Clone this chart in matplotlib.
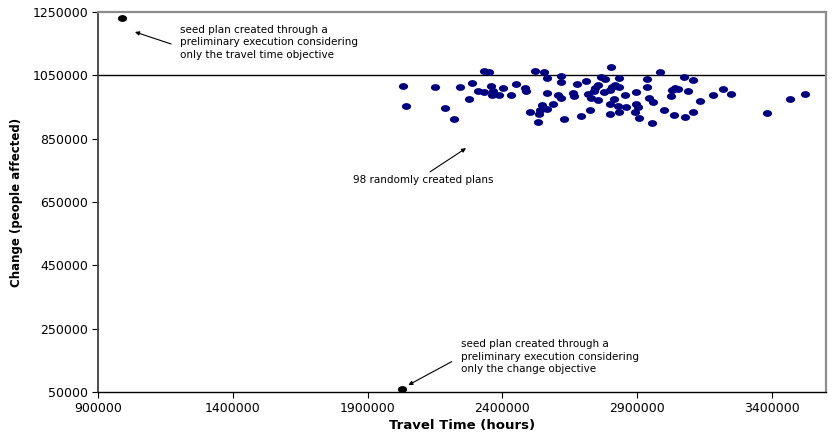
import matplotlib
matplotlib.use("Agg")
import matplotlib.pyplot as plt
from matplotlib.path import Path

# --- data ---
plans_travel = [
    2333000, 2350000, 2032000, 2150000, 2244000, 2286000, 2310000, 2333000, 2358000, 2366000,
    2360000, 2387000, 2403000, 2431000, 2450000, 2484000, 2486000, 2043000, 2187000, 2277000,
    2221000, 2502000, 2521000, 2554000, 2564000, 2616000, 2616000, 2676000, 2709000, 2803000,
    2765000, 2781000, 2834000, 2935000, 2935000, 2985000, 2567000, 2607000, 2616000, 2661000,
    2666000, 2719000, 2727000, 2743000, 2740000, 2756000, 2756000, 2777000, 2799000, 2805000,
    2818000, 2834000, 2814000, 2799000, 2830000, 2855000, 2858000, 2895000, 2895000, 2904000,
    2945000, 2957000, 2999000, 2546000, 2539000, 2564000, 2587000, 2537000, 2533000, 2628000,
    2690000, 2725000, 2799000, 2834000, 2892000, 2908000, 2954000, 3075000, 3108000, 3040000,
    3028000, 3052000, 3025000, 3087000, 3038000, 3077000, 3106000, 3133000, 3180000, 3217000,
    3247000, 3382000, 3468000, 3523000,
]
plans_change = [
    1064600, 1059600, 1017300, 1014100, 1014000, 1024800, 1001500, 998300, 1017300, 1000500,
    987900, 988800, 1010900, 988800, 1021700, 1009000, 1000500, 952200, 947800, 975300,
    912100, 935100, 1063700, 1061500, 1042500, 1048800, 1029900, 1021700, 1032100, 1077300,
    1045700, 1038400, 1040600, 1038400, 1014100, 1059600, 993300, 987900, 977500, 993300,
    985700, 990100, 977500, 1010900, 1000500, 1019500, 972100, 996400, 1003700, 1014100,
    1019500, 1014100, 975300, 958500, 954100, 987900, 949000, 996400, 958500, 950900,
    979400, 964800, 940500, 956300, 940500, 943700, 959500, 927900, 901700, 912100,
    921600, 940500, 926900, 935100, 935100, 916200, 898500, 1043800, 1035300, 1010900,
    1003700, 1005900, 984700, 1001500, 924700, 918400, 935100, 968900, 987900, 1006800,
    990100, 930100, 974300, 990100,
]
seed_travel = [989000, 2026000]
seed_change = [1231000, 58000]

x_ticks = [900000, 1400000, 1900000, 2400000, 2900000, 3400000]
y_ticks = [50000, 250000, 450000, 650000, 850000, 1050000, 1250000]

plt.rcParams["font.family"] = "DejaVu Sans"

fig = plt.figure(figsize=(8.33, 4.38), dpi=100)
ax = fig.add_axes([98 / 833, 46 / 438, 728 / 833, 380 / 438])

# slightly wide dots, like the stretched original
circ = Path.unit_circle()
dot = Path(circ.vertices * [1.35, 1.0], circ.codes)

ax.axhline(1050000, color="black", linewidth=1.0, zorder=1)
ax.scatter(plans_travel, plans_change, marker=dot, s=44, color="#000080",
           linewidths=0, zorder=3)
ax.scatter(seed_travel, seed_change, marker=dot, s=44, color="black",
           linewidths=0, zorder=3, clip_on=False)

ax.set_xlim(900000, 3600000)
ax.set_ylim(50000, 1250000)
ax.set_xticks(x_ticks)
ax.set_yticks(y_ticks)
ax.set_xticklabels([str(v) for v in x_ticks])
ax.set_yticklabels([str(v) for v in y_ticks])
ax.tick_params(axis="both", direction="out", length=4, width=0.8,
               labelsize=9, colors="black", pad=3)

ax.spines["left"].set_color("#404040")
ax.spines["left"].set_linewidth(1.3)
ax.spines["bottom"].set_color("black")
ax.spines["bottom"].set_linewidth(1.0)
for s in ("top", "right"):
    ax.spines[s].set_color("#8c8c8c")
    ax.spines[s].set_linewidth(1.6)

ax.set_xlabel("Travel Time (hours)", fontsize=9.5, fontweight="bold", labelpad=3)
ax.set_ylabel("Change (people affected)", fontsize=8.5, fontweight="bold", labelpad=7)

arrow = dict(arrowstyle="-|>", color="black", lw=0.8, mutation_scale=6,
             shrinkA=0, shrinkB=0)

ax.annotate("", xy=(1037000, 1187000), xytext=(1171000, 1149000),
            arrowprops=arrow, annotation_clip=False)
ax.text(1204000, 1210000,
        "seed plan created through a\npreliminary execution considering\nonly the travel time objective",
        fontsize=7.5, ha="left", va="top", linespacing=1.35)

ax.annotate("", xy=(2265000, 820000), xytext=(2131000, 745000),
            arrowprops=arrow, annotation_clip=False)
ax.text(2105000, 719000, "98 randomly created plans", fontsize=7.5,
        ha="center", va="center")

ax.annotate("", xy=(2051000, 72000), xytext=(2212000, 146000),
            arrowprops=arrow, annotation_clip=False)
ax.text(2248000, 218000,
        "seed plan created through a\npreliminary execution considering\nonly the change objective",
        fontsize=7.5, ha="left", va="top", linespacing=1.35)

fig.savefig("out.png", dpi=100)
